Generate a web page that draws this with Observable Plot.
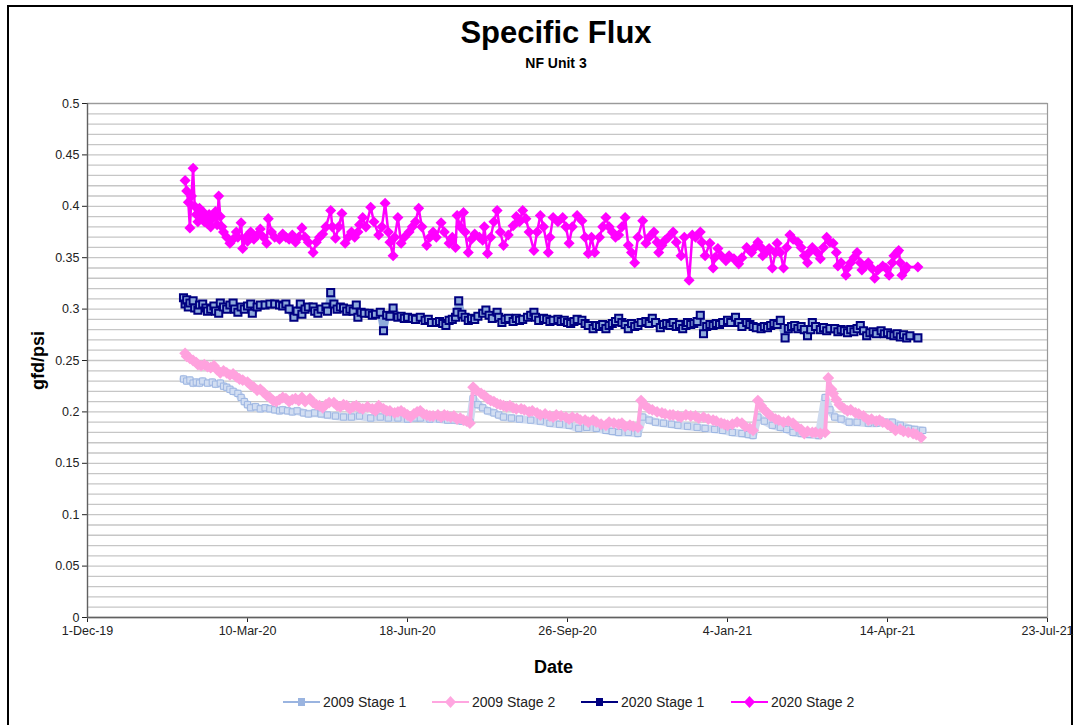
<!DOCTYPE html>
<html><head><meta charset="utf-8">
<script src="https://cdn.jsdelivr.net/npm/d3@7"></script>
<script src="https://cdn.jsdelivr.net/npm/@observablehq/plot@0.6"></script>
<style>
body{margin:0;background:#fff;font-family:"Liberation Sans",Arial,sans-serif;}
#wrap{position:relative;width:1083px;height:725px;overflow:hidden;background:#fff}
#frame{position:absolute;left:7px;top:5px;width:1066px;height:760px;border:2px solid #000;box-sizing:border-box}
#title{position:absolute;left:0;width:1112px;top:15px;text-align:center;font-weight:bold;font-size:31px;color:#000}
#subtitle{position:absolute;left:0;width:1112px;top:55px;text-align:center;font-weight:bold;font-size:14px;color:#000}
#chart{position:absolute;left:0;top:80px}
#legend{position:absolute;left:0;top:694px;width:1083px;height:20px}
.item{position:absolute;top:0;display:flex;align-items:center;font-size:14px;color:#222}
.item svg{margin-right:3px}
</style></head><body>
<div id="wrap">
<div id="frame"></div>
<div id="title">Specific Flux</div>
<div id="subtitle">NF Unit 3</div>
<div id="chart"></div>
<div id="legend"></div>
</div>
<script>
// Day offsets are counted from 1-Dec-19; each pair is [day, gfd/psi]
const START = Date.UTC(2019, 11, 1);
const toDate = d => new Date(START + d * 864e5);

const seriesNames = ["2009 Stage 1", "2009 Stage 2", "2020 Stage 1", "2020 Stage 2"];
const xTickDays = [0, 100, 200, 300, 400, 500, 600];
const xTickLabels = ["1-Dec-19", "10-Mar-20", "18-Jun-20", "26-Sep-20", "4-Jan-21", "14-Apr-21", "23-Jul-21"];
const yTicks = [0, 0.05, 0.1, 0.15, 0.2, 0.25, 0.3, 0.35, 0.4, 0.45, 0.5];
const yTickLabels = ["0", "0.05", "0.1", "0.15", "0.2", "0.25", "0.3", "0.35", "0.4", "0.45", "0.5"];

const s2009Stage1 = [[60,.232],[62,.230],[64,.231],[66,.228],[68,.229],[70,.228],[72,.230],[75,.228],[78,.229],[80,.227],[83,.228],[85,.225],[87,.224],[89,.222],[91,.220],[94,.218],[96,.214],[98,.210],[100,.207],[102,.204],[105,.205],[108,.203],[111,.204],[114,.203],[117,.202],[120,.201],[122,.202],[125,.201],[128,.200],[131,.201],[135,.199],[138,.198],[142,.199],[146,.198],[150,.197],[155,.196],[160,.195],[165,.195],[170,.196],[177,.194],[183,.195],[188,.194],[194,.194],[200,.193],[205,.194],[208,.194],[214,.193],[220,.193],[225,.192],[229,.192],[234,.191],[239,.190],[241,.213],[244,.207],[247,.204],[250,.201],[254,.199],[257,.197],[260,.195],[265,.194],[270,.193],[277,.192],[283,.191],[289,.189],[295,.188],[301,.187],[307,.184],[312,.185],[318,.184],[324,.182],[328,.181],[332,.180],[338,.180],[344,.179],[347,.195],[351,.192],[355,.190],[360,.189],[365,.188],[369,.187],[375,.186],[381,.185],[386,.184],[392,.183],[397,.182],[403,.180],[409,.179],[413,.178],[416,.177],[419,.195],[423,.191],[428,.187],[433,.185],[437,.183],[441,.180],[446,.179],[451,.178],[457,.177],[461,.214],[464,.202],[467,.195],[471,.193],[476,.190],[481,.190],[488,.189],[493,.189],[498,.190],[503,.190],[508,.187],[513,.184],[517,.183],[522,.182]];

const s2009Stage2 = [[61,.257],[62,.254],[64,.252],[66,.250],[68,.248],[69,.246],[71,.245],[73,.246],[75,.244],[77,.243],[79,.245],[81,.241],[83,.238],[85,.240],[87,.238],[89,.236],[91,.237],[93,.234],[95,.232],[97,.231],[100,.229],[102,.226],[104,.224],[106,.221],[108,.222],[110,.219],[112,.216],[114,.214],[116,.211],[118,.210],[120,.212],[122,.214],[124,.213],[126,.210],[128,.212],[130,.213],[132,.211],[134,.214],[136,.210],[139,.213],[141,.209],[143,.207],[145,.206],[147,.204],[149,.207],[151,.209],[154,.209],[156,.206],[158,.205],[160,.207],[162,.206],[164,.203],[166,.205],[168,.206],[170,.204],[172,.203],[175,.205],[178,.203],[180,.201],[182,.206],[185,.203],[187,.201],[189,.201],[192,.199],[194,.200],[196,.201],[198,.199],[200,.197],[202,.195],[204,.198],[206,.200],[208,.201],[210,.198],[212,.197],[214,.196],[216,.196],[219,.197],[221,.195],[223,.197],[225,.196],[227,.195],[229,.196],[231,.193],[233,.194],[235,.192],[237,.191],[239,.189],[241,.224],[243,.221],[246,.218],[248,.216],[250,.213],[252,.211],[254,.210],[256,.208],[258,.207],[260,.206],[262,.205],[264,.206],[266,.204],[268,.203],[271,.203],[273,.202],[276,.200],[278,.201],[281,.199],[283,.197],[286,.198],[289,.196],[291,.195],[293,.197],[296,.196],[299,.195],[301,.193],[303,.195],[306,.194],[308,.192],[311,.192],[313,.190],[316,.192],[318,.190],[321,.188],[324,.187],[326,.190],[329,.189],[332,.188],[334,.189],[336,.186],[339,.187],[341,.186],[344,.185],[346,.211],[348,.207],[351,.203],[353,.202],[356,.200],[359,.199],[361,.198],[364,.197],[366,.197],[369,.196],[371,.195],[374,.197],[377,.196],[380,.196],[382,.194],[385,.195],[388,.193],[391,.192],[393,.191],[396,.189],[398,.188],[400,.187],[403,.188],[406,.190],[409,.189],[411,.186],[414,.184],[416,.182],[419,.211],[421,.206],[423,.202],[425,.199],[427,.196],[430,.193],[432,.192],[435,.190],[438,.191],[441,.189],[443,.186],[446,.183],[448,.179],[450,.181],[453,.180],[455,.180],[458,.179],[461,.180],[463,.233],[465,.222],[466,.218],[468,.212],[470,.207],[473,.203],[475,.201],[477,.202],[480,.199],[482,.198],[485,.196],[488,.192],[490,.193],[493,.191],[495,.192],[497,.190],[500,.188],[502,.186],[505,.182],[508,.183],[510,.181],[513,.180],[516,.179],[518,.178],[521,.175]];

const s2020Stage1 = [[60,.311],[61,.305],[62,.309],[63,.302],[64,.306],[66,.308],[67,.301],[69,.299],[70,.304],[72,.305],[74,.301],[75,.298],[77,.300],[79,.303],[80,.298],[82,.296],[83,.306],[85,.302],[87,.300],[89,.304],[91,.306],[92,.300],[94,.297],[96,.302],[98,.300],[100,.303],[102,.305],[103,.296],[106,.302],[108,.304],[111,.304],[114,.305],[117,.305],[120,.304],[122,.303],[124,.305],[126,.300],[129,.292],[131,.298],[133,.305],[134,.295],[136,.300],[138,.302],[141,.302],[142,.298],[144,.296],[146,.300],[149,.302],[150,.298],[152,.316],[154,.305],[156,.300],[158,.302],[160,.301],[162,.298],[164,.300],[166,.298],[168,.304],[169,.292],[171,.297],[173,.296],[176,.296],[178,.294],[180,.295],[183,.297],[185,.279],[187,.294],[189,.293],[191,.301],[194,.292],[196,.293],[198,.291],[200,.292],[203,.291],[205,.290],[208,.292],[211,.289],[213,.290],[215,.287],[218,.287],[220,.288],[222,.286],[224,.284],[226,.289],[228,.290],[230,.292],[231,.297],[232,.308],[234,.295],[236,.292],[238,.289],[240,.291],[242,.290],[244,.293],[247,.296],[249,.299],[251,.294],[253,.291],[256,.297],[257,.292],[259,.287],[261,.290],[263,.291],[266,.288],[268,.291],[270,.289],[272,.290],[275,.292],[277,.294],[279,.297],[280,.292],[282,.289],[285,.291],[287,.290],[289,.288],[291,.289],[294,.290],[296,.288],[298,.289],[300,.287],[302,.286],[304,.288],[306,.290],[309,.289],[311,.286],[313,.284],[316,.281],[318,.284],[320,.283],[322,.285],[324,.281],[326,.284],[328,.286],[330,.288],[332,.291],[334,.287],[336,.285],[338,.281],[340,.286],[342,.283],[344,.284],[346,.287],[349,.288],[351,.286],[353,.291],[355,.287],[358,.282],[360,.285],[362,.286],[364,.284],[366,.287],[368,.283],[370,.285],[372,.281],[374,.284],[375,.287],[377,.285],[379,.286],[381,.288],[383,.294],[385,.276],[387,.283],[389,.285],[391,.284],[393,.286],[395,.285],[397,.287],[400,.289],[402,.287],[405,.292],[407,.287],[409,.283],[412,.287],[414,.285],[416,.283],[418,.282],[421,.281],[423,.283],[425,.282],[427,.284],[429,.286],[431,.285],[433,.289],[436,.272],[438,.281],[440,.283],[442,.284],[444,.281],[446,.283],[448,.280],[450,.274],[452,.280],[453,.287],[455,.283],[458,.280],[460,.282],[462,.279],[464,.281],[467,.281],[469,.278],[471,.280],[473,.279],[475,.277],[477,.280],[479,.278],[481,.281],[483,.284],[485,.279],[487,.274],[489,.277],[491,.278],[493,.276],[496,.279],[498,.276],[500,.277],[502,.275],[504,.274],[506,.276],[508,.273],[510,.275],[512,.272],[514,.274],[519,.272]];

const s2020Stage2 = [[61,.425],[62,.415],[63,.404],[64,.379],[65,.410],[66,.437],[67,.400],[68,.392],[69,.385],[70,.398],[71,.390],[72,.395],[73,.385],[74,.390],[75,.383],[76,.392],[77,.380],[78,.388],[79,.390],[80,.395],[81,.382],[82,.410],[83,.390],[84,.380],[85,.375],[87,.370],[89,.364],[91,.368],[93,.375],[94,.370],[96,.384],[97,.359],[99,.370],[100,.366],[102,.375],[104,.368],[106,.372],[108,.378],[110,.370],[112,.364],[113,.388],[115,.375],[117,.370],[120,.368],[122,.373],[124,.370],[126,.368],[128,.372],[130,.365],[132,.370],[134,.379],[136,.370],[138,.365],[141,.355],[143,.365],[145,.370],[147,.373],[149,.380],[152,.396],[153,.380],[155,.369],[157,.380],[159,.393],[161,.364],[163,.370],[165,.375],[167,.370],[169,.375],[170,.382],[172,.389],[174,.380],[177,.399],[179,.385],[182,.372],[184,.380],[186,.403],[188,.375],[189,.365],[191,.352],[192,.370],[194,.389],[196,.364],[198,.370],[201,.375],[203,.380],[205,.385],[207,.398],[209,.380],[212,.362],[214,.370],[216,.375],[218,.370],[221,.384],[223,.375],[226,.364],[228,.370],[230,.360],[231,.391],[233,.380],[235,.394],[236,.375],[238,.355],[240,.368],[242,.373],[245,.370],[247,.367],[248,.380],[250,.354],[252,.370],[254,.385],[256,.396],[258,.375],[260,.362],[263,.372],[266,.381],[268,.390],[270,.385],[272,.396],[274,.388],[276,.375],[279,.357],[281,.375],[283,.391],[285,.380],[288,.355],[289,.370],[291,.389],[294,.385],[297,.389],[299,.380],[301,.364],[303,.380],[306,.391],[309,.386],[311,.370],[313,.354],[315,.370],[317,.355],[320,.370],[322,.380],[324,.389],[326,.380],[328,.375],[330,.370],[332,.372],[334,.380],[336,.389],[338,.362],[340,.355],[342,.345],[344,.370],[347,.386],[349,.364],[351,.370],[354,.375],[356,.365],[357,.355],[359,.362],[361,.367],[363,.370],[366,.375],[368,.365],[371,.352],[373,.370],[376,.328],[378,.372],[380,.370],[383,.375],[384,.365],[386,.352],[389,.364],[391,.340],[392,.350],[394,.359],[396,.352],[399,.347],[401,.352],[404,.349],[407,.344],[409,.350],[412,.360],[415,.355],[417,.360],[419,.365],[421,.360],[422,.352],[424,.355],[426,.359],[428,.340],[430,.355],[431,.364],[433,.355],[435,.340],[437,.360],[439,.372],[441,.368],[444,.365],[446,.360],[448,.352],[450,.345],[451,.355],[453,.360],[456,.355],[458,.349],[460,.360],[462,.370],[464,.365],[466,.364],[468,.355],[469,.342],[471,.345],[474,.333],[475,.340],[477,.345],[479,.350],[481,.355],[483,.345],[484,.338],[486,.342],[488,.345],[490,.340],[492,.330],[494,.338],[497,.342],[499,.340],[501,.333],[503,.345],[504,.352],[506,.355],[507,.357],[508,.345],[509,.333],[511,.338],[512,.341],[519,.341]];

const build = pairs => pairs.map(([d, v]) => ({date: toDate(d), value: v}));
const d09a = build(s2009Stage1);
const d09b = build(s2009Stage2);
const d20a = build(s2020Stage1);
const d20b = build(s2020Stage2);

const diamond = {draw(ctx, size) { const r = Math.sqrt(size / 2); ctx.moveTo(0, -r); ctx.lineTo(r, 0); ctx.lineTo(0, r); ctx.lineTo(-r, 0); ctx.closePath(); }};

const xTicks = xTickDays.map(toDate);
const xLabelMap = new Map(xTicks.map((t, i) => [+t, xTickLabels[i]]));
const yLabelMap = new Map(yTicks.map((t, i) => [t, yTickLabels[i]]));
const yGrid = d3.ticks(0, 0.5, 50);

const FONT = '"Liberation Sans", Arial, sans-serif';

const chart = Plot.plot({
  width: 1083, height: 605,
  marginLeft: 87, marginRight: 36, marginTop: 23, marginBottom: 68,
  style: {fontFamily: FONT, fontSize: "12.5px", color: "#222", background: "transparent", overflow: "visible"},
  x: {type: "utc", domain: [toDate(0), toDate(600)], ticks: xTicks, tickFormat: d => xLabelMap.get(+d), tickSize: 5, tickPadding: 4, label: null},
  y: {domain: [0, 0.5], ticks: yTicks, tickFormat: d => yLabelMap.get(d), tickSize: 5, tickPadding: 3, label: null},
  marks: [
    Plot.ruleY(yGrid, {stroke: "#c6c6c6", strokeWidth: 1.3}),
    Plot.frame({stroke: "#9a9a9a", strokeWidth: 1.2}),
    // 2009 Stage 1
    Plot.line(d09a, {x: "date", y: "value", stroke: "#cfdbf0", strokeWidth: 8}),
    Plot.dot(d09a, {x: "date", y: "value", symbol: "square", r: 3.5, fill: "#d2def2", stroke: "#9db6e2", strokeWidth: 1}),
    // 2009 Stage 2
    Plot.line(d09b, {x: "date", y: "value", stroke: "#ffa2de", strokeWidth: 4}),
    Plot.dot(d09b, {x: "date", y: "value", symbol: diamond, r: 4.7, fill: "#ffa2de"}),
    // 2020 Stage 1
    Plot.line(d20a, {x: "date", y: "value", stroke: "#8eaadb", strokeWidth: 7}),
    Plot.dot(d20a, {x: "date", y: "value", symbol: "square", r: 4, fill: "#8eaadb", stroke: "#000080", strokeWidth: 2}),
    // 2020 Stage 2
    Plot.line(d20b, {x: "date", y: "value", stroke: "#ff00ff", strokeWidth: 2.5}),
    Plot.dot(d20b, {x: "date", y: "value", symbol: diamond, r: 4.4, fill: "#ff00ff"}),
    Plot.ruleX([toDate(0)], {stroke: "#606060", strokeWidth: 1.3}),
    Plot.ruleY([0], {stroke: "#606060", strokeWidth: 1.3}),
    Plot.text(["gfd/psi"], {text: d => d, frameAnchor: "left", dx: -49, rotate: -90, textAnchor: "middle", lineAnchor: "middle", fontWeight: "bold", fontSize: 18, fill: "#000"}),
    Plot.text(["Date"], {text: d => d, frameAnchor: "bottom", dx: -14, dy: 50, textAnchor: "middle", lineAnchor: "middle", fontWeight: "bold", fontSize: 18, fill: "#000"})
  ]
});
document.getElementById("chart").appendChild(chart);

// Legend
const legendStyles = [
  {stroke: "#9ab4e0", fill: "#9ab4e0", shape: "square"},
  {stroke: "#ffa6e0", fill: "#ffa6e0", shape: "diamond"},
  {stroke: "#000080", fill: "#000080", shape: "square"},
  {stroke: "#ff00ff", fill: "#ff00ff", shape: "diamond"}
];
const legendLeft = [283, 432, 581, 731];
const legend = document.getElementById("legend");
seriesNames.forEach((name, i) => {
  const s = legendStyles[i];
  const item = document.createElement("div");
  item.className = "item";
  item.style.left = legendLeft[i] + "px";
  const mk = s.shape === "square"
    ? `<rect x="15" y="4" width="7" height="8" fill="${s.fill}"/>`
    : `<path d="M18.5 2 L24 8 L18.5 14 L13 8 Z" fill="${s.fill}"/>`;
  item.innerHTML = `<svg width="37" height="16"><line x1="0" x2="37" y1="8" y2="8" stroke="${s.stroke}" stroke-width="2"/>${mk}</svg><span>${name}</span>`;
  legend.appendChild(item);
});
</script>
</body></html>
